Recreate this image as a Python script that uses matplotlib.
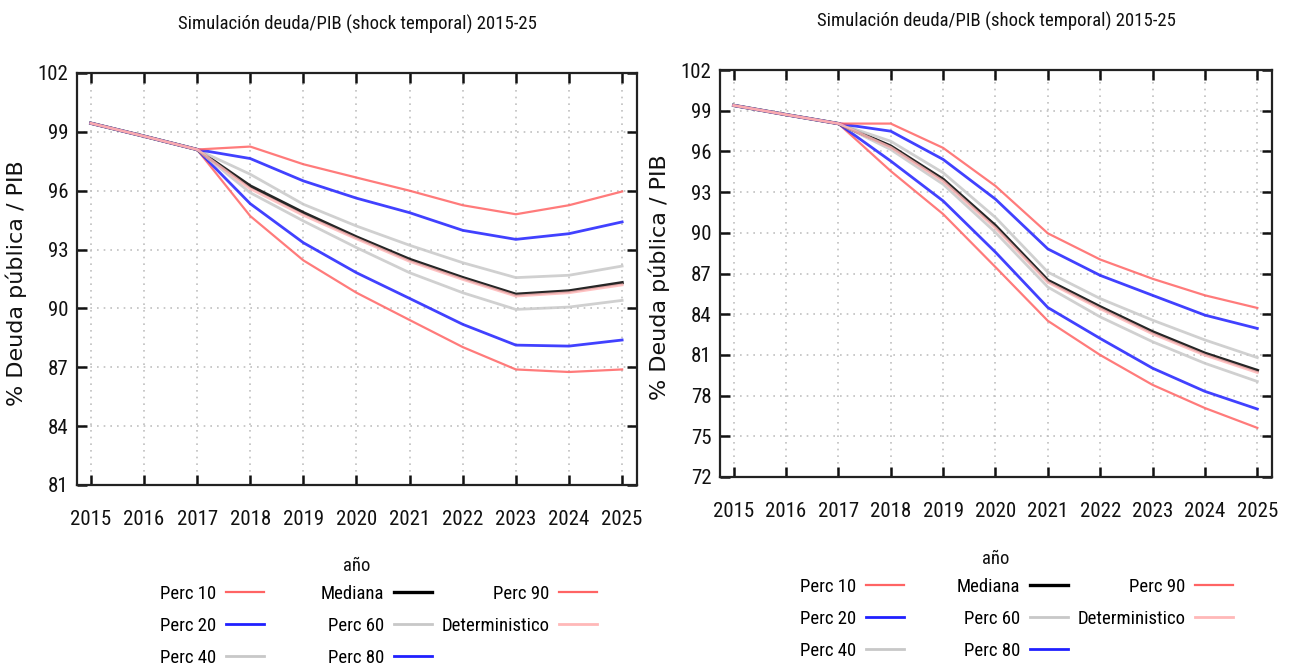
import matplotlib
matplotlib.use("Agg")
import matplotlib.pyplot as plt
from matplotlib.ticker import MultipleLocator
from matplotlib.font_manager import FontProperties

years = [2015, 2016, 2017, 2018, 2019, 2020, 2021, 2022, 2023, 2024, 2025]

# Left panel
left_p10 = [99.44, 98.78, 98.10, 94.71, 92.45, 90.80, 89.41, 88.03, 86.89, 86.76, 86.89]
left_p20 = [99.44, 98.78, 98.10, 95.34, 93.35, 91.82, 90.51, 89.19, 88.13, 88.08, 88.39]
left_p40 = [99.44, 98.78, 98.10, 95.90, 94.46, 93.10, 91.82, 90.80, 89.95, 90.07, 90.41]
left_med = [99.44, 98.78, 98.10, 96.24, 94.88, 93.64, 92.50, 91.57, 90.72, 90.89, 91.31]
left_p60 = [99.44, 98.78, 98.10, 96.84, 95.31, 94.20, 93.22, 92.33, 91.57, 91.69, 92.16]
left_p80 = [99.44, 98.78, 98.10, 97.64, 96.50, 95.62, 94.88, 93.98, 93.52, 93.81, 94.41]
left_p90 = [99.44, 98.78, 98.10, 98.25, 97.35, 96.67, 96.00, 95.26, 94.80, 95.26, 95.96]
left_det = [99.44, 98.78, 98.10, 96.10, 94.75, 93.55, 92.40, 91.48, 90.63, 90.80, 91.20]

# Right panel
right_p10 = [99.39, 98.71, 98.05, 94.55, 91.38, 87.47, 83.51, 80.99, 78.79, 77.08, 75.62]
right_p20 = [99.39, 98.71, 98.05, 95.29, 92.35, 88.57, 84.49, 82.21, 80.02, 78.31, 77.01]
right_p40 = [99.39, 98.71, 98.05, 96.14, 93.58, 90.03, 86.00, 83.80, 81.97, 80.38, 79.04]
right_med = [99.39, 98.71, 98.05, 96.39, 93.94, 90.52, 86.49, 84.54, 82.70, 81.12, 79.85]
right_p60 = [99.39, 98.71, 98.05, 96.75, 94.43, 91.13, 87.10, 85.15, 83.56, 82.10, 80.80]
right_p80 = [99.39, 98.71, 98.05, 97.49, 95.41, 92.48, 88.81, 86.86, 85.39, 83.93, 82.95]
right_p90 = [99.39, 98.71, 98.05, 98.05, 96.26, 93.45, 89.96, 88.03, 86.61, 85.39, 84.46]
right_det = [99.39, 98.71, 98.05, 96.30, 93.80, 90.35, 86.35, 84.40, 82.55, 80.98, 79.70]

labels = ["Perc 10", "Perc 20", "Perc 40", "Mediana", "Perc 60", "Perc 80",
          "Perc 90", "Deterministico"]
colors = ["#ff6464", "#2020ff", "#c8c8c8", "#000000", "#c8c8c8", "#2020ff",
          "#ff6464", "#ffb8b8"]
widths = [1.6, 2.0, 2.0, 2.4, 2.0, 2.0, 1.6, 2.0]

title = "Simulación deuda/PIB (shock temporal) 2015-25"
ylabel = "% Deuda pública / PIB"
xlabel = "año"

NARROW = ["Liberation Sans Narrow", "Roboto Condensed", "DejaVu Sans"]


def nfp(size):
    return FontProperties(family=NARROW, stretch="condensed", size=size)


fig = plt.figure(figsize=(12.91, 6.71), dpi=100)

W, H = 1291, 671


def make_ax(px_left, px_right, px_top, px_bottom):
    return fig.add_axes([px_left / W, 1 - px_bottom / H,
                         (px_right - px_left) / W, (px_bottom - px_top) / H])


panels = [
    dict(box=(77, 637, 73, 485), ylim=(81, 102), ylab_x=27, xlab_y=557, xpad=18,
         series=[left_p10, left_p20, left_p40, left_med, left_p60, left_p80, left_p90, left_det],
         leg_x=[264, 432, 597], leg_top=585),
    dict(box=(720, 1272, 70, 477), ylim=(72, 102), ylab_x=670, xlab_y=550, xpad=18,
         series=[right_p10, right_p20, right_p40, right_med, right_p60, right_p80, right_p90, right_det],
         leg_x=[904, 1068, 1233], leg_top=578),
]

for p in panels:
    l, r, t, b = p["box"]
    ax = make_ax(l, r, t, b)
    handles = []
    for s, lab, c, lw in zip(p["series"], labels, colors, widths):
        h, = ax.plot(years, s, color=c, lw=lw, label=lab, alpha=0.85,
                     solid_joinstyle="miter")
        handles.append(h)
    ax.set_xlim(2014.74, 2025.28)
    ax.set_ylim(*p["ylim"])
    ax.set_xticks(years)
    ax.yaxis.set_major_locator(MultipleLocator(3))
    ax.grid(True, color="#c0c0c0", linestyle=(0, (1, 3)), linewidth=1.2)
    for sp in ax.spines.values():
        sp.set_linewidth(1.6)
        sp.set_color("#222222")
    ax.tick_params(axis="both", direction="in", length=7, width=1.8,
                   top=True, right=True, colors="#111111")
    ax.tick_params(axis="x", pad=p["xpad"])
    ax.tick_params(axis="y", pad=6)
    for lbl in ax.get_xticklabels() + ax.get_yticklabels():
        lbl.set_fontproperties(nfp(15))
        lbl.set_color("#111111")
    ax.set_title(title, fontproperties=nfp(13.5), pad=31, color="#111111")
    ax.set_ylabel(ylabel, family="DejaVu Sans", fontsize=16, color="#111111")
    ax.yaxis.set_label_coords((p["ylab_x"] - l) / (r - l), 0.49)
    ax.set_xlabel(xlabel, fontproperties=nfp(13.5), color="#111111")
    ax.xaxis.set_label_coords(0.5, (b - p["xlab_y"]) / (b - t))
    ax.xaxis.label.set_va("top")

    cols = [handles[0:3], handles[3:6], handles[6:8]]
    for hs, x in zip(cols, p["leg_x"]):
        leg = fig.legend(handles=hs, labels=[h.get_label() for h in hs],
                         loc="upper right", bbox_to_anchor=(x / W, 1 - p["leg_top"] / H),
                         bbox_transform=fig.transFigure, frameon=False,
                         markerfirst=False, borderpad=0, borderaxespad=0,
                         handlelength=2.05, handletextpad=0.5, labelspacing=0.74,
                         prop=nfp(13.5))
        for lh in leg.get_lines():
            lh.set_alpha(1.0)

fig.savefig("out.png", dpi=100)
